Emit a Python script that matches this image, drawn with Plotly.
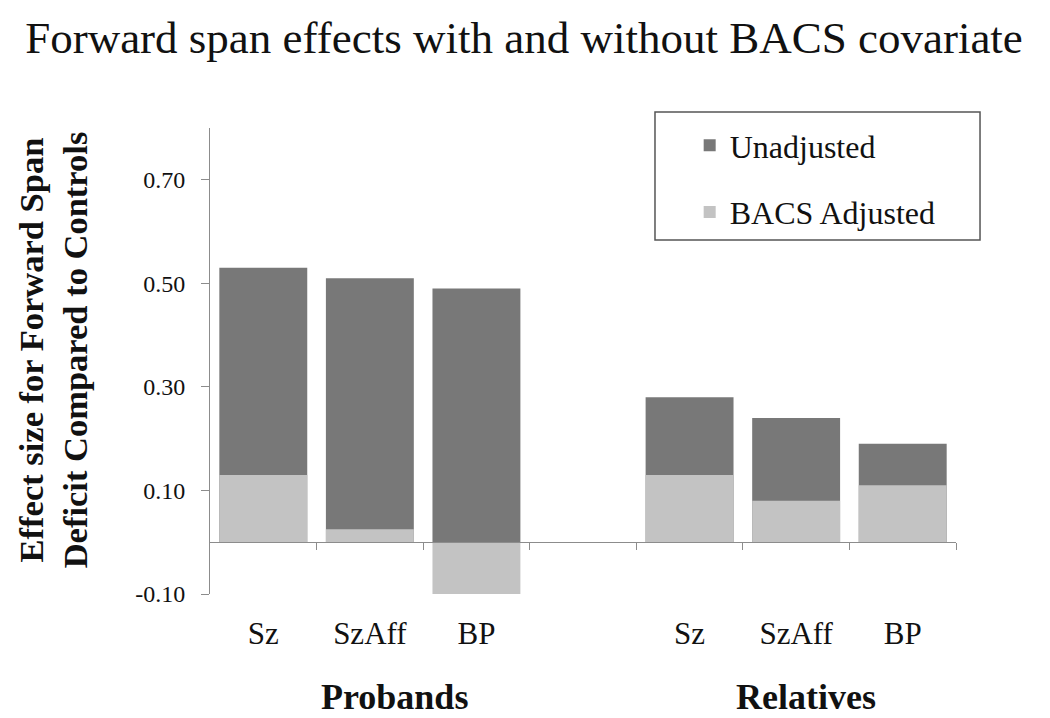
import plotly.graph_objects as go

# ---- data ----
slot_labels = ["Sz", "SzAff", "BP", "", "Sz", "SzAff", "BP"]
slot_pos = [0, 1, 2, 3, 4, 5, 6]
unadjusted = [0.53, 0.51, 0.49, None, 0.28, 0.24, 0.19]
bacs_adjusted = [0.13, 0.025, -0.10, None, 0.13, 0.08, 0.11]
group_names = ["Probands", "Relatives"]
group_centers = [1.23, 5.09]
y_ticks = [-0.10, 0.10, 0.30, 0.50, 0.70]
y_ticktext = [f"{v:.2f}" for v in y_ticks]
boundary_ticks = [0.5, 1.5, 2.5, 3.5, 4.5, 5.5, 6.5]

SERIF = "Liberation Serif, Times New Roman, serif"
DARK = "#787878"
LIGHT = "#c3c3c3"
AX = "#8c8c8c"

fig = go.Figure()
fig.add_trace(go.Bar(x=slot_pos, y=unadjusted, name="Unadjusted",
                     marker=dict(color=DARK, line=dict(width=0)),
                     width=0.825, legendgroup="a"))
fig.add_trace(go.Bar(x=slot_pos, y=bacs_adjusted, name="BACS Adjusted",
                     marker=dict(color=LIGHT, line=dict(width=0)),
                     width=0.825, legendgroup="b"))
# helper trace so the zero-line axis is drawn
fig.add_trace(go.Scatter(x=slot_pos, y=[0] * len(slot_pos), xaxis="x2", mode="none",
                         showlegend=False, hoverinfo="skip"))

ymin, ymax = -0.10, 0.80
zero_pos = (0 - ymin) / (ymax - ymin)

W, H = 1042, 710  # page body has an 8px margin
fig.update_layout(
    width=W, height=H,
    margin=dict(l=202, r=94, t=120, b=124),
    paper_bgcolor="white", plot_bgcolor="white",
    barmode="overlay",
    font=dict(family=SERIF, color="#111111"),
    title=dict(text="Forward span effects with and without BACS covariate",
               font=dict(family=SERIF, size=45, color="#111111"),
               x=0.4952, xanchor="center", y=1 - 29 / H, yanchor="middle"),
    xaxis=dict(range=[-0.5, 6.5], tickmode="array", tickvals=slot_pos, ticktext=slot_labels,
               showline=False, ticks="", showgrid=False, zeroline=False,
               tickfont=dict(family=SERIF, size=31, color="#111111"),
               ticklabelstandoff=18),
    xaxis2=dict(range=[-0.5, 6.5], overlaying="x", anchor="free", position=zero_pos,
                tickmode="array", tickvals=boundary_ticks, showticklabels=False,
                ticks="outside", ticklen=7, tickcolor=AX, tickwidth=1,
                showline=True, linecolor=AX, linewidth=1, showgrid=False, zeroline=False),
    yaxis=dict(range=[ymin, ymax], tickmode="array", tickvals=y_ticks, ticktext=y_ticktext,
               showline=True, linecolor=AX, linewidth=1, ticks="outside", ticklen=8,
               tickcolor=AX, showgrid=False, zeroline=False,
               tickfont=dict(family=SERIF, size=24, color="#111111"),
               ticklabelstandoff=11),
    legend=dict(x=0.643, y=1.0215, xanchor="left", yanchor="top",
                bgcolor="rgba(0,0,0,0)", borderwidth=0,
                traceorder="grouped", tracegroupgap=22,
                font=dict(family=SERIF, size=32, color="#111111")),
    showlegend=True,
)

# legend frame
fig.add_shape(type="rect", xref="paper", yref="paper",
              x0=0.5965, x1=1.0322, y0=0.7597, y1=1.0343,
              line=dict(color="#555555", width=1.5), fillcolor="rgba(0,0,0,0)")

# y axis title
fig.add_annotation(text="<b>Effect size for Forward Span<br>Deficit Compared to Controls</b>",
                   xref="paper", yref="paper", x=-0.2105, y=0.525,
                   xanchor="center", yanchor="middle", textangle=-90, showarrow=False,
                   font=dict(family=SERIF, size=34.5, color="#111111"))

# group labels
for name, cx in zip(group_names, group_centers):
    fig.add_annotation(text=f"<b>{name}</b>", xref="x", yref="paper", x=cx, y=-0.2205,
                       xanchor="center", yanchor="middle", showarrow=False,
                       font=dict(family=SERIF, size=36, color="#111111"))

fig.write_html("out.html")
